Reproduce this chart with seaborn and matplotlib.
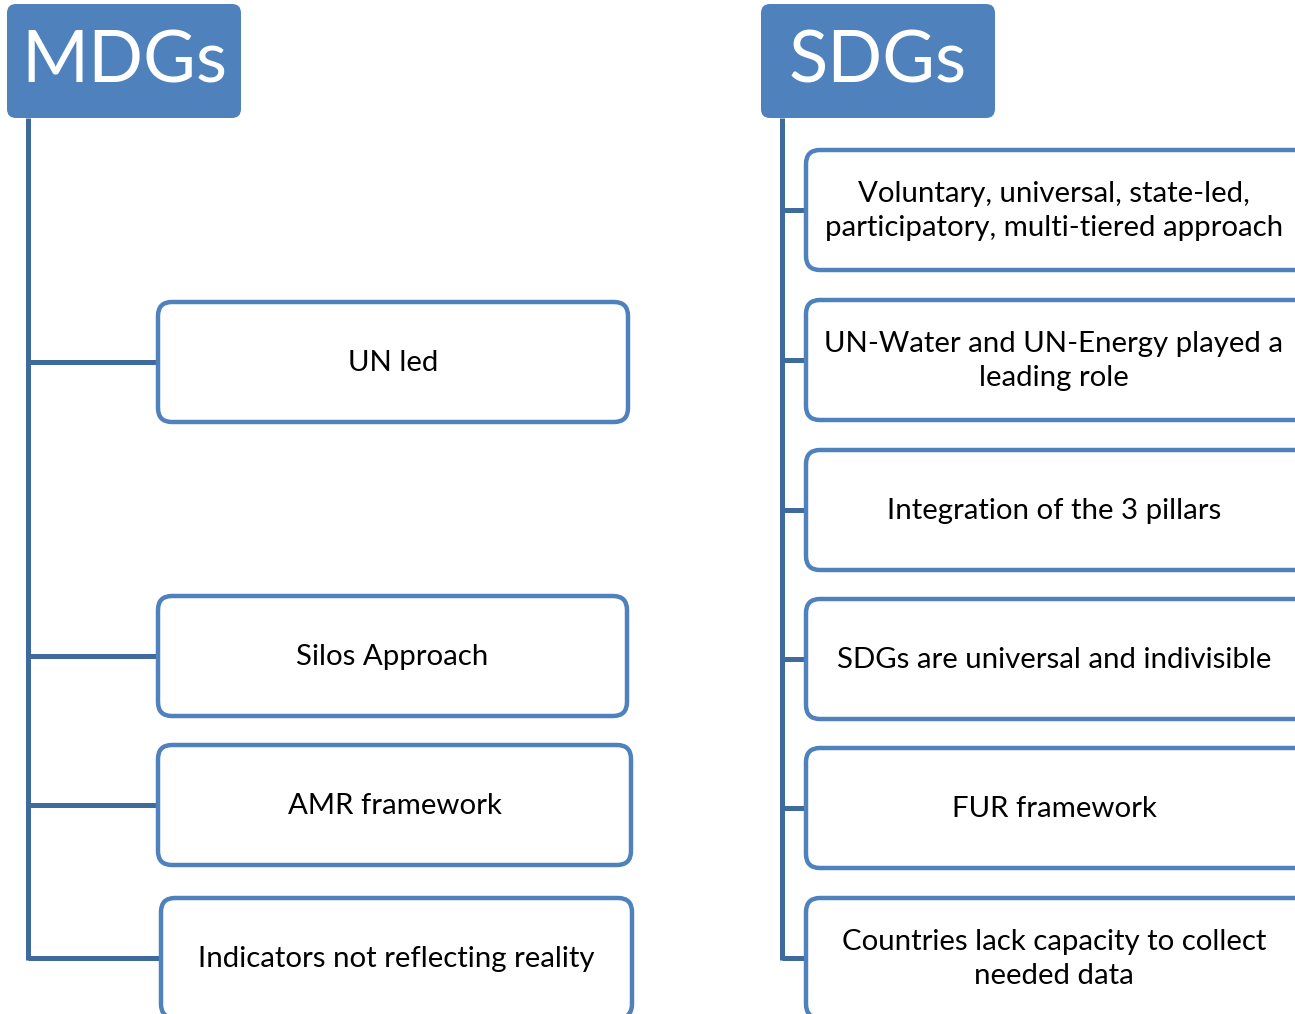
import matplotlib.pyplot as plt
import seaborn as sns
from matplotlib.patches import FancyBboxPatch

# headers
headers = ['MDGs', 'SDGs']

# MDG items and their box tops (px from top)
mdg_items = ['UN led', 'Silos Approach', 'AMR framework', 'Indicators not reflecting reality']
mdg_tops = [302, 596, 745, 898]
mdg_lefts = [158, 158, 158, 161]
mdg_rights = [628, 627, 631, 632]

# SDG items
sdg_items = ['Voluntary, universal, state-led,\nparticipatory, multi-tiered approach',
             'UN-Water and UN-Energy played a\nleading role',
             'Integration of the 3 pillars',
             'SDGs are universal and indivisible',
             'FUR framework',
             'Countries lack capacity to collect\nneeded data']
sdg_tops = [150, 300, 450, 599, 748, 898]

BLUE = '#4F81BD'
DARK = '#3F6A9C'
BOX_H = 120

sns.set_style('white')
plt.rcParams['font.family'] = ['Lato', 'DejaVu Sans']

fig = plt.figure(figsize=(12.95, 10.14), dpi=100)
ax = fig.add_axes([0, 0, 1, 1])
ax.set_xlim(0, 1295)
ax.set_ylim(1014, 0)
ax.axis('off')


def header(x0, label):
    ax.add_patch(FancyBboxPatch((x0, 4), 234, 114, boxstyle='round,pad=0,rounding_size=9',
                                facecolor=BLUE, edgecolor='none'))
    ax.text(x0 + 117, 62, label, color='white', fontsize=52, ha='center', va='center')


def item(x0, x1, top, label, trunk, tx=None):
    cy = top + BOX_H / 2
    ax.plot([trunk, x0], [cy, cy], color=DARK, lw=3.6, solid_capstyle='butt', zorder=1)
    ax.add_patch(FancyBboxPatch((x0, top), x1 - x0, BOX_H,
                                boxstyle='round,pad=0,rounding_size=14',
                                facecolor='white', edgecolor=BLUE, lw=3.2, zorder=2))
    if tx is None:
        tx = (x0 + x1) / 2
    ax.text(tx, cy + 1, label, fontsize=21.2, ha='center', va='center',
            linespacing=1.42, color='black', zorder=3)


# MDGs column
header(7, headers[0])
mdg_last = mdg_tops[-1] + BOX_H / 2
ax.plot([28, 28], [118, mdg_last + 1.5], color=DARK, lw=3.6, solid_capstyle='butt')
for label, top, l, r in zip(mdg_items, mdg_tops, mdg_lefts, mdg_rights):
    item(l, r, top, label, 28)

# SDGs column (boxes run off the right edge, text centred on the visible part)
header(761, headers[1])
sdg_last = sdg_tops[-1] + BOX_H / 2
ax.plot([782, 782], [118, sdg_last + 1.5], color=DARK, lw=3.6, solid_capstyle='butt')
for label, top in zip(sdg_items, sdg_tops):
    item(806, 1310, top, label, 782, tx=1054)

fig.savefig('out.png', dpi=100)
